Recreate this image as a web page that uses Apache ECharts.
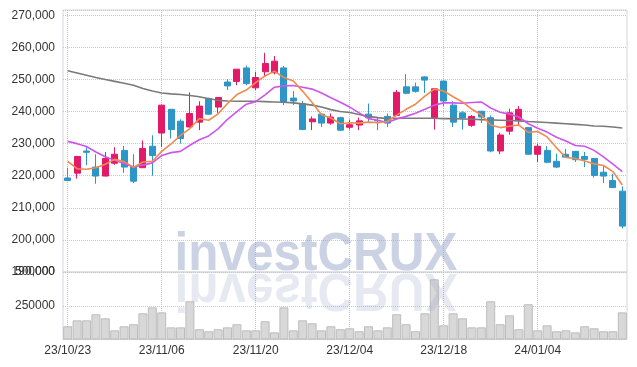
<!DOCTYPE html>
<html>
<head>
<meta charset="utf-8">
<script src="https://cdn.jsdelivr.net/npm/echarts@6/dist/echarts.min.js"></script>
<style>
html,body{margin:0;padding:0;background:#fff;}
#chart{width:637px;height:367px;}
</style>
</head>
<body>
<div id="chart"></div>
<script>
const categories = [
 '23/10/23','23/10/24','23/10/25','23/10/26','23/10/27','23/10/30','23/10/31','23/11/01','23/11/02','23/11/03',
 '23/11/06','23/11/07','23/11/08','23/11/09','23/11/10','23/11/13','23/11/14','23/11/15','23/11/16','23/11/17',
 '23/11/20','23/11/21','23/11/22','23/11/23','23/11/24','23/11/27','23/11/28','23/11/29','23/11/30','23/12/01',
 '23/12/04','23/12/05','23/12/06','23/12/07','23/12/08','23/12/11','23/12/12','23/12/13','23/12/14','23/12/15',
 '23/12/18','23/12/19','23/12/20','23/12/21','23/12/22','23/12/26','23/12/27','23/12/28','24/01/02','24/01/03',
 '24/01/04','24/01/05','24/01/08','24/01/09','24/01/10','24/01/11','24/01/12','24/01/15','24/01/16','24/01/17'
];
const opens = [
 219300,220800,227700,222700,219900,223900,227900,222700,222500,229200,
 233300,240700,237000,235200,236700,244100,241400,249200,249400,253600,
 247400,252400,252100,253600,244200,242500,236800,239200,236400,238100,
 235100,235800,239200,237200,238500,238800,247700,247700,250800,238100,
 249500,242000,239600,235700,240100,238100,227700,233900,237300,235000,
 226700,227900,224500,226700,227600,226000,225400,221100,218500,215200
];
const closes = [
 218500,226000,227300,219900,225400,226700,222700,218300,228500,226300,
 242000,234400,231600,239400,241700,239200,244400,248000,253200,248700,
 250600,255000,255700,243000,243300,234400,237700,236400,238300,234200,
 235900,237100,238100,237100,236400,246000,245700,246300,249800,247100,
 243300,236700,238000,238500,238300,227700,232700,239600,240700,226700,
 229200,224200,222700,225800,225000,225100,220100,219900,216300,204300
];
const lows = [
 218300,219100,223300,217500,219800,223400,220900,217700,222400,220000,
 228900,231600,230000,235000,234200,239000,239600,246700,248200,248200,
 246700,250800,251600,242000,242000,234300,234200,235200,235900,234000,
 234400,234200,236800,234200,235200,238700,245400,245900,245800,234400,
 241700,235200,234400,235200,236400,227300,226700,232800,235700,226500,
 224300,223900,222400,225700,224300,222700,219400,217700,216200,203600
];
const highs = [
 222500,226200,228900,226700,227400,228900,229300,226700,231000,232600,
 242100,240800,237600,246000,243200,244300,244500,250100,253300,254300,
 252400,258300,257300,254200,246400,243300,238500,239300,239400,238400,
 237500,238100,242500,238000,239400,246700,251700,249000,251000,247300,
 249600,243200,240100,238900,240200,238800,233400,240900,241700,235200,
 230000,229200,226900,228400,227700,227400,225500,223000,220600,216700
];
const ma5 = [
 224500,222200,222000,222500,223600,225100,224400,222600,224300,224500,
 227600,229900,232600,234700,237800,237300,239300,242500,245300,246700,
 249000,251100,252600,250600,249500,246300,242800,239000,238000,236200,
 236500,236400,236700,236500,236900,238900,240700,242300,244800,247000,
 246400,244600,243000,240700,239000,235800,235000,235400,235800,233500,
 233800,232100,228700,225700,225400,224600,223700,223200,221300,217100
];
const ma10 = [
 230700,230000,229100,227400,225900,224800,223800,222700,223300,224000,
 226300,227200,227600,229500,231200,232400,234600,237600,240000,242300,
 243100,245200,247600,248000,248100,247600,247000,245800,244300,242900,
 241400,239600,237800,237300,236600,237700,238500,239500,240700,242000,
 242700,242700,242600,242800,243000,241100,239800,239200,238300,236200,
 234800,233600,232000,230800,229400,229200,227900,225900,223600,221300
];
const maLong = [
 252700,252000,251300,250600,250000,249400,248800,248200,247200,246400,
 245800,245500,245300,245000,244600,244000,243500,243300,243200,243200,
 243200,243100,243000,242900,242700,242400,242000,241400,240600,240000,
 239700,239100,238500,238100,237800,237900,237900,237900,237900,237900,
 237800,237800,237700,237600,237500,237400,237300,237200,237100,236900,
 236750,236600,236400,236200,236000,235800,235500,235400,235200,234900
];
const volumes = [
 98000,142000,142000,187000,157000,68000,98000,113000,194000,238000,
 201000,90000,90000,283000,76000,61000,76000,90000,113000,68000,
 68000,135000,53000,238000,68000,142000,120000,68000,98000,76000,
 83000,61000,98000,68000,90000,187000,113000,61000,194000,446000,
 105000,194000,157000,90000,90000,283000,113000,179000,76000,261000,
 68000,105000,61000,68000,53000,98000,83000,61000,61000,201000
];
const priceTicks = {min:190000, max:271650, interval:10000};
const volTicks = {min:0, max:500000, interval:250000};

const UP = '#e21a68', DOWN = '#2d96c8';
const gridLine = {show:true, interval:9, alignWithLabel:true, lineStyle:{color:'#bcc0d0', type:'dotted', width:1}};
const hLine = {show:true, lineStyle:{color:'#c4c8d6', type:'dotted', width:1}};
const labelFont = {color:'#333', fontSize:12, fontFamily:'"Liberation Sans", Arial, sans-serif'};

const chart = echarts.init(document.getElementById('chart'), null, {renderer:'canvas'});
chart.setOption({
  animation:false,
  backgroundColor:'#fff',
  grid:[
    {left:63, right:10, top:10, height:262, show:true, borderColor:'#d4d6de', borderWidth:1},
    {left:63, right:10, top:272, height:67.5, show:true, borderColor:'#d4d6de', borderWidth:1}
  ],
  xAxis:[
    {type:'category', gridIndex:0, data:categories, boundaryGap:true,
     axisLine:{show:false}, axisTick:{show:false}, axisLabel:{show:false}, splitLine:gridLine},
    {type:'category', gridIndex:1, data:categories, boundaryGap:true,
     axisLine:{show:false}, axisTick:{show:false},
     axisLabel:Object.assign({interval:9, margin:5}, labelFont), splitLine:gridLine}
  ],
  yAxis:[
    {type:'value', gridIndex:0, min:priceTicks.min, max:priceTicks.max, interval:priceTicks.interval,
     axisLine:{show:false}, axisTick:{show:false}, splitLine:hLine,
     axisLabel:Object.assign({margin:8, showMaxLabel:false,
       formatter:function(v){ return v % 10000 === 0 ? v.toLocaleString('en-US') : ''; }}, labelFont)},
    {type:'value', gridIndex:1, min:volTicks.min, max:volTicks.max, interval:volTicks.interval,
     axisLine:{show:false}, axisTick:{show:false}, splitLine:hLine,
     axisLabel:Object.assign({margin:8, showMinLabel:false,
       formatter:function(v){ return v === 0 ? '' : String(v); }}, labelFont)}
  ],
  series:[
    {type:'candlestick', xAxisIndex:0, yAxisIndex:0, barWidth:'68%',
     data:categories.map(function(_, i){ return [opens[i], closes[i], lows[i], highs[i]]; }),
     itemStyle:{color:UP, color0:DOWN, borderColor:UP, borderColor0:DOWN, borderWidth:1}},
    {type:'line', xAxisIndex:0, yAxisIndex:0, data:maLong, symbol:'none',
     lineStyle:{color:'#7a7a7a', width:1.6}},
    {type:'line', xAxisIndex:0, yAxisIndex:0, data:ma10, symbol:'none',
     lineStyle:{color:'#cc55ee', width:1.6}},
    {type:'line', xAxisIndex:0, yAxisIndex:0, data:ma5, symbol:'none',
     lineStyle:{color:'#f08a50', width:1.6}},
    {type:'bar', xAxisIndex:1, yAxisIndex:1, data:volumes, barCategoryGap:'4%',
     itemStyle:{color:'#d8d8d8', borderColor:'#bdbdbd', borderWidth:1}}
  ],
  graphic:[
    {type:'text', x:316, y:272, z:100, scaleX:0.915, silent:true,
     style:{text:'investCRUX', x:0, y:-17, font:'bold 54px "Liberation Sans", Arial, sans-serif',
       fill:'rgba(150,165,200,0.5)', align:'center', verticalAlign:'middle', textAlign:'center', textVerticalAlign:'middle'}},
    {type:'text', x:316, y:272, z:100, scaleX:0.915, scaleY:-1, silent:true,
     style:{text:'investCRUX', x:0, y:-17, font:'bold 54px "Liberation Sans", Arial, sans-serif',
       fill:'rgba(150,165,200,0.24)', align:'center', verticalAlign:'middle', textAlign:'center', textVerticalAlign:'middle'}}
  ]
});
</script>
</body>
</html>
